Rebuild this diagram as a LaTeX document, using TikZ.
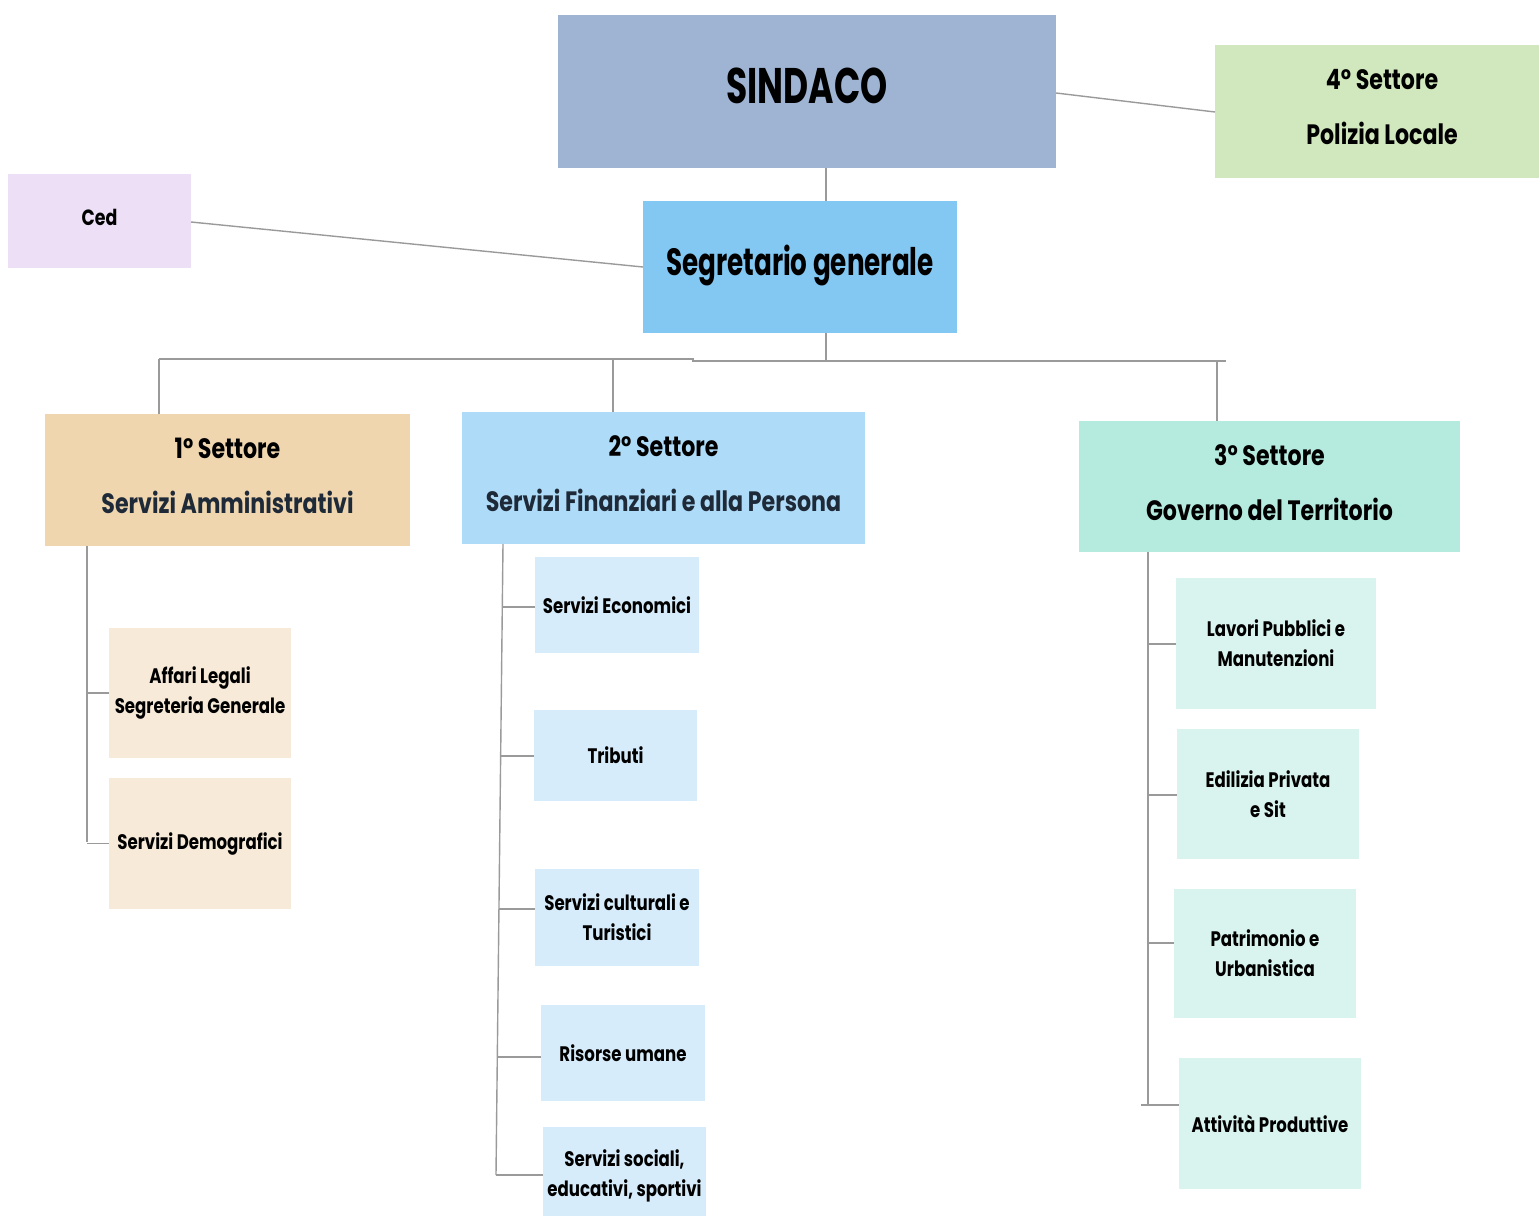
\documentclass[tikz,border=0pt]{standalone}
\usepackage{fontspec}
\setmainfont{Poppins}[FakeStretch=0.79]
\newfontfamily\bigfont{Poppins}[FakeStretch=0.69]
\usetikzlibrary{calc}
\definecolor{cSind}{HTML}{9FB4D3}
\definecolor{cPol}{HTML}{D1E7BD}
\definecolor{cCed}{HTML}{EDDFF5}
\definecolor{cSeg}{HTML}{83C8F3}
\definecolor{cS1}{HTML}{F0D6AF}
\definecolor{cS2}{HTML}{AEDBF7}
\definecolor{cS3}{HTML}{B5EADE}
\definecolor{cC1}{HTML}{F7EAD8}
\definecolor{cC2}{HTML}{D6ECFA}
\definecolor{cC3}{HTML}{D9F3EE}
\definecolor{cLine}{HTML}{9A9A9A}
\definecolor{cNavy}{HTML}{1F2A38}
% #1 name, #2-#5 box corners (px), #6 fill colour, #7 text style, #8 text
\newcommand\obox[8]{%
  \node[box,fill=#6,minimum width={(#4-#2)*0.5pt},minimum height={(#5-#3)*0.5pt}] (#1) at ({(#2+#4)/2},{(#3+#5)/2}) {};
  \node[txt,#7] (#1-t) at (#1.center) {#8};}
\tikzset{
  box/.style={draw=none,inner sep=0pt},
  txt/.style={inner sep=0pt,align=center,text=black},
  big/.style={font={\bigfont\fontsize{25}{30}\selectfont\bfseries},yshift=3pt},
  seg/.style={font={\bigfont\fontsize{19}{24}\selectfont\bfseries},yshift=0.5pt},
  sect/.style={font={\fontsize{14}{27.5}\selectfont\bfseries},yshift=2pt},
  small/.style={font={\fontsize{10.5}{15}\selectfont\bfseries},yshift=0pt},
  cedf/.style={font={\fontsize{11}{14}\selectfont\bfseries},yshift=2pt},
  conn/.style={draw=cLine,line width=0.7pt},
}
\begin{document}
\begin{tikzpicture}[x=0.5pt,y=-0.5pt]
\useasboundingbox (0,0) rectangle (1539,1216);
\clip (0,0) rectangle (1539,1216);
% top level
\obox{sind}{558}{15}{1056}{168}{cSind}{big}{SINDACO}
\obox{pol}{1215}{45}{1549}{178}{cPol}{sect}{4° Settore\\Polizia Locale}
\obox{ced}{8}{174}{191}{268}{cCed}{cedf}{Ced}
\obox{seg}{643}{201}{957}{333}{cSeg}{seg}{Segretario generale}
% sectors
\obox{s1}{45}{414}{410}{546}{cS1}{sect}{1° Settore\\\textcolor{cNavy}{Servizi Amministrativi}}
\obox{s2}{462}{412}{865}{544}{cS2}{sect}{2° Settore\\\textcolor{cNavy}{Servizi Finanziari e alla Persona}}
\obox{s3}{1079}{421}{1460}{552}{cS3}{sect}{3° Settore\\Governo del Territorio}
% sector 1 children
\obox{a1}{109}{628}{291}{758}{cC1}{small}{Affari Legali\\Segreteria Generale}
\obox{a2}{109}{778}{291}{909}{cC1}{small}{Servizi Demografici}
% sector 2 children
\obox{b1}{535}{557}{699}{653}{cC2}{small}{Servizi Economici}
\obox{b2}{534}{710}{697}{801}{cC2}{small}{Tributi}
\obox{b3}{535}{869}{699}{966}{cC2}{small}{Servizi culturali e\\Turistici}
\obox{b4}{541}{1005}{705}{1101}{cC2}{small}{Risorse umane}
\obox{b5}{543}{1127}{706}{1225}{cC2}{small}{Servizi sociali,\\educativi, sportivi}
% sector 3 children
\obox{d1}{1176}{578}{1376}{709}{cC3}{small}{Lavori Pubblici e\\Manutenzioni}
\obox{d2}{1177}{729}{1359}{859}{cC3}{small}{Edilizia Privata\\e Sit}
\obox{d3}{1174}{889}{1356}{1018}{cC3}{small}{Patrimonio e\\Urbanistica}
\obox{d4}{1179}{1058}{1361}{1189}{cC3}{small}{Attività Produttive}
% coordinates
\coordinate (vx) at (826,361);
\coordinate (bl) at (159,359);
\coordinate (bk) at (693,359);
\coordinate (bk2) at (693,361);
\coordinate (br) at (1226,361);
\coordinate (b2x) at (613,359);
\coordinate (b3x) at (1217,361);
\coordinate (cedr) at (191,222);
\coordinate (segl) at (643,267);
\coordinate (sindr) at (1056,93);
\coordinate (poll) at (1215,112);
% top connectors
\draw[conn] (sindr) -- (poll);
\draw[conn] (cedr) -- (segl);
\draw[conn] (sind.south -| vx) -- (seg.north -| vx);
\draw[conn] (seg.south -| vx) -- (vx);
\draw[conn] (bl) -- (bk) -- (bk2) -- (br);
\draw[conn] (bl) -- (s1.north -| bl);
\draw[conn] (b2x) -- (s2.north -| b2x);
\draw[conn] (b3x) -- (s3.north -| b3x);
% sector 1 trunk
\coordinate (t1) at (87,842);
\draw[conn] (s1.south -| t1) -- (t1);
\draw[conn] (a1.west -| t1) -- (a1.west);
\draw[conn] (a2.west -| t1) -- (a2.west);
% sector 2 trunk (slightly slanted)
\coordinate (t2a) at (503,544);
\coordinate (t2b) at (496,1175);
\draw[conn] (t2a) -- (t2b);
\coordinate (k1) at (502.3,607);
\coordinate (k2) at (500.6,756);
\coordinate (k3) at (499,909);
\coordinate (k4) at (497.3,1057);
\coordinate (k5) at (496,1175);
\draw[conn] (k1) -- (b1.west |- k1);
\draw[conn] (k2) -- (b2.west |- k2);
\draw[conn] (k3) -- (b3.west |- k3);
\draw[conn] (k4) -- (b4.west |- k4);
\draw[conn] (k5) -- (b5.west |- k5);
% sector 3 trunk
\coordinate (t3) at (1148,1105);
\draw[conn] (s3.south -| t3) -- (t3);
\coordinate (m1) at (1148,644);
\coordinate (m2) at (1148,795);
\coordinate (m3) at (1148,943);
\coordinate (m4) at (1141,1105);
\draw[conn] (m1) -- (d1.west |- m1);
\draw[conn] (m2) -- (d2.west |- m2);
\draw[conn] (m3) -- (d3.west |- m3);
\draw[conn] (m4) -- (d4.west |- m4);
\end{tikzpicture}
\end{document}
